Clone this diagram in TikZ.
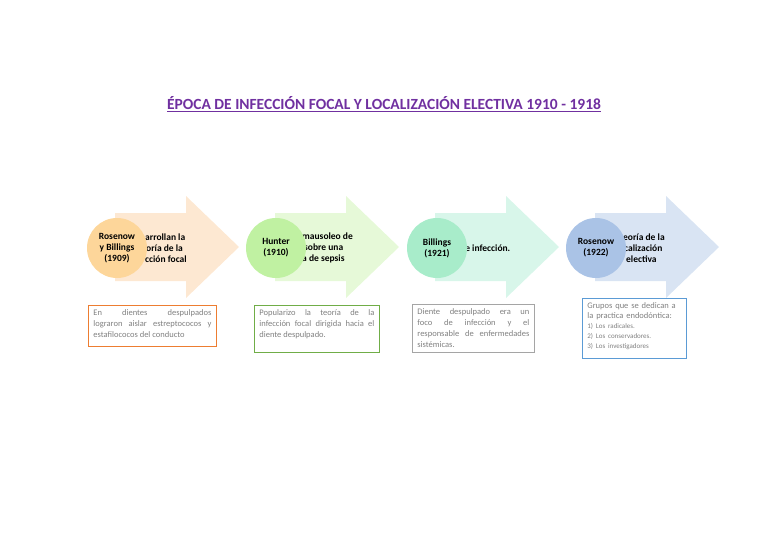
\documentclass[tikz,border=0pt]{standalone}
\usepackage{fontspec}
\setmainfont{Carlito}
\usetikzlibrary{positioning}

\definecolor{titlepurple}{HTML}{7030A0}
\definecolor{notegray}{HTML}{808080}
\definecolor{arrowA}{HTML}{FDE8D2}
\definecolor{circA}{HTML}{FDD69A}
\definecolor{lineA}{HTML}{ED7D31}
\definecolor{arrowB}{HTML}{E6F9D8}
\definecolor{circB}{HTML}{C0F1A2}
\definecolor{lineB}{HTML}{70AD47}
\definecolor{arrowC}{HTML}{D8F6EA}
\definecolor{circC}{HTML}{A8ECCA}
\definecolor{lineC}{HTML}{A5A5A5}
\definecolor{arrowD}{HTML}{D9E4F3}
\definecolor{circD}{HTML}{AAC3E6}
\definecolor{lineD}{HTML}{5B9BD5}

\begin{document}
\begin{tikzpicture}[x=1pt, y=-1pt
  , circ/.style={ circle, minimum size=60pt, inner sep=0pt
                , align=center, font=\bfseries\fontsize{9.5}{11}\selectfont
                }
  , steptext/.style={ anchor=west, align=left, inner sep=0pt
                    , font=\bfseries\fontsize{9.5}{11}\selectfont
                    }
  , notebox/.style={ draw, line width=0.8pt, anchor=north west
                   , inner xsep=5pt, inner ysep=4pt, text=notegray
                   , font=\fontsize{8.5}{11}\selectfont
                   }
  ]

  \useasboundingbox (0,0) rectangle (768,543);

  \node (title) at (384,104) [text=titlepurple, font=\bfseries\fontsize{15.5}{18}\selectfont]
    {\underline{ÉPOCA DE INFECCIÓN FOCAL Y LOCALIZACIÓN ELECTIVA 1910 - 1918}};

  % arrows
  \fill [arrowA] (115,213) -- (186,213) -- (186,196) -- (239,247)
                 -- (186,298) -- (186,281) -- (115,281) -- cycle;
  \fill [arrowB] (275,213) -- (346,213) -- (346,196) -- (399,247)
                 -- (346,298) -- (346,281) -- (275,281) -- cycle;
  \fill [arrowC] (435,213) -- (506,213) -- (506,196) -- (559,247)
                 -- (506,298) -- (506,281) -- (435,281) -- cycle;
  \fill [arrowD] (595,213) -- (666,213) -- (666,196) -- (719,247)
                 -- (666,298) -- (666,281) -- (595,281) -- cycle;

  \node (textA) at (145,248) [steptext] {arrollan la\\\hspace{1pt}oría de la\\cción focal};
  \node (textB) at (302,248) [steptext] {mausoleo de\\\hspace{2pt}sobre una\\a de sepsis};
  \node (textC) at (460,248) [steptext] {de infección.};
  \node (textD) at (623,248) [steptext] {eoría de la\\\hspace{1pt}calización\\\hspace{3pt}electiva};

  \node (stepA) at (117,248) [circ, fill=circA] {Rosenow\\y Billings\\(1909)};
  \node (stepB) at (276,248) [circ, fill=circB] {Hunter\\(1910)};
  \node (stepC) at (437,248) [circ, fill=circC] {Billings\\(1921)};
  \node (stepD) at (596,248) [circ, fill=circD] {Rosenow\\(1922)};

  % notes
  \node (noteA) at (88,305) [notebox, draw=lineA, text width=118pt, align=justify]
    {En dientes despulpados\linebreak lograron aislar estreptococos y\linebreak estafilococos del conducto\par\vspace{5pt}};
  \node (noteB) at (254,305) [notebox, draw=lineB, text width=115pt, align=justify]
    {Popularizo la teoría de la\linebreak infección focal dirigida hacia el\linebreak diente despulpado.\par\vspace{10pt}};
  \node (noteC) at (412,304) [notebox, draw=lineC, text width=112pt, align=justify]
    {Diente despulpado era un\linebreak foco de infección y el\linebreak responsable de enfermedades\linebreak sistémicas.\par\vspace{1pt}};
  \node (noteD) at (582,298) [notebox, draw=lineD, text width=94pt, align=left, font=\fontsize{8.5}{10}\selectfont]
    {Grupos que se dedican a\\la practica endodóntica:\\
     {\fontsize{7}{9}\selectfont 1) Los radicales.}\\
     {\fontsize{7}{9}\selectfont 2) Los conservadores.}\\
     {\fontsize{7}{9}\selectfont 3) Los investigadores}\par\vspace{5pt}};

\end{tikzpicture}
\end{document}
